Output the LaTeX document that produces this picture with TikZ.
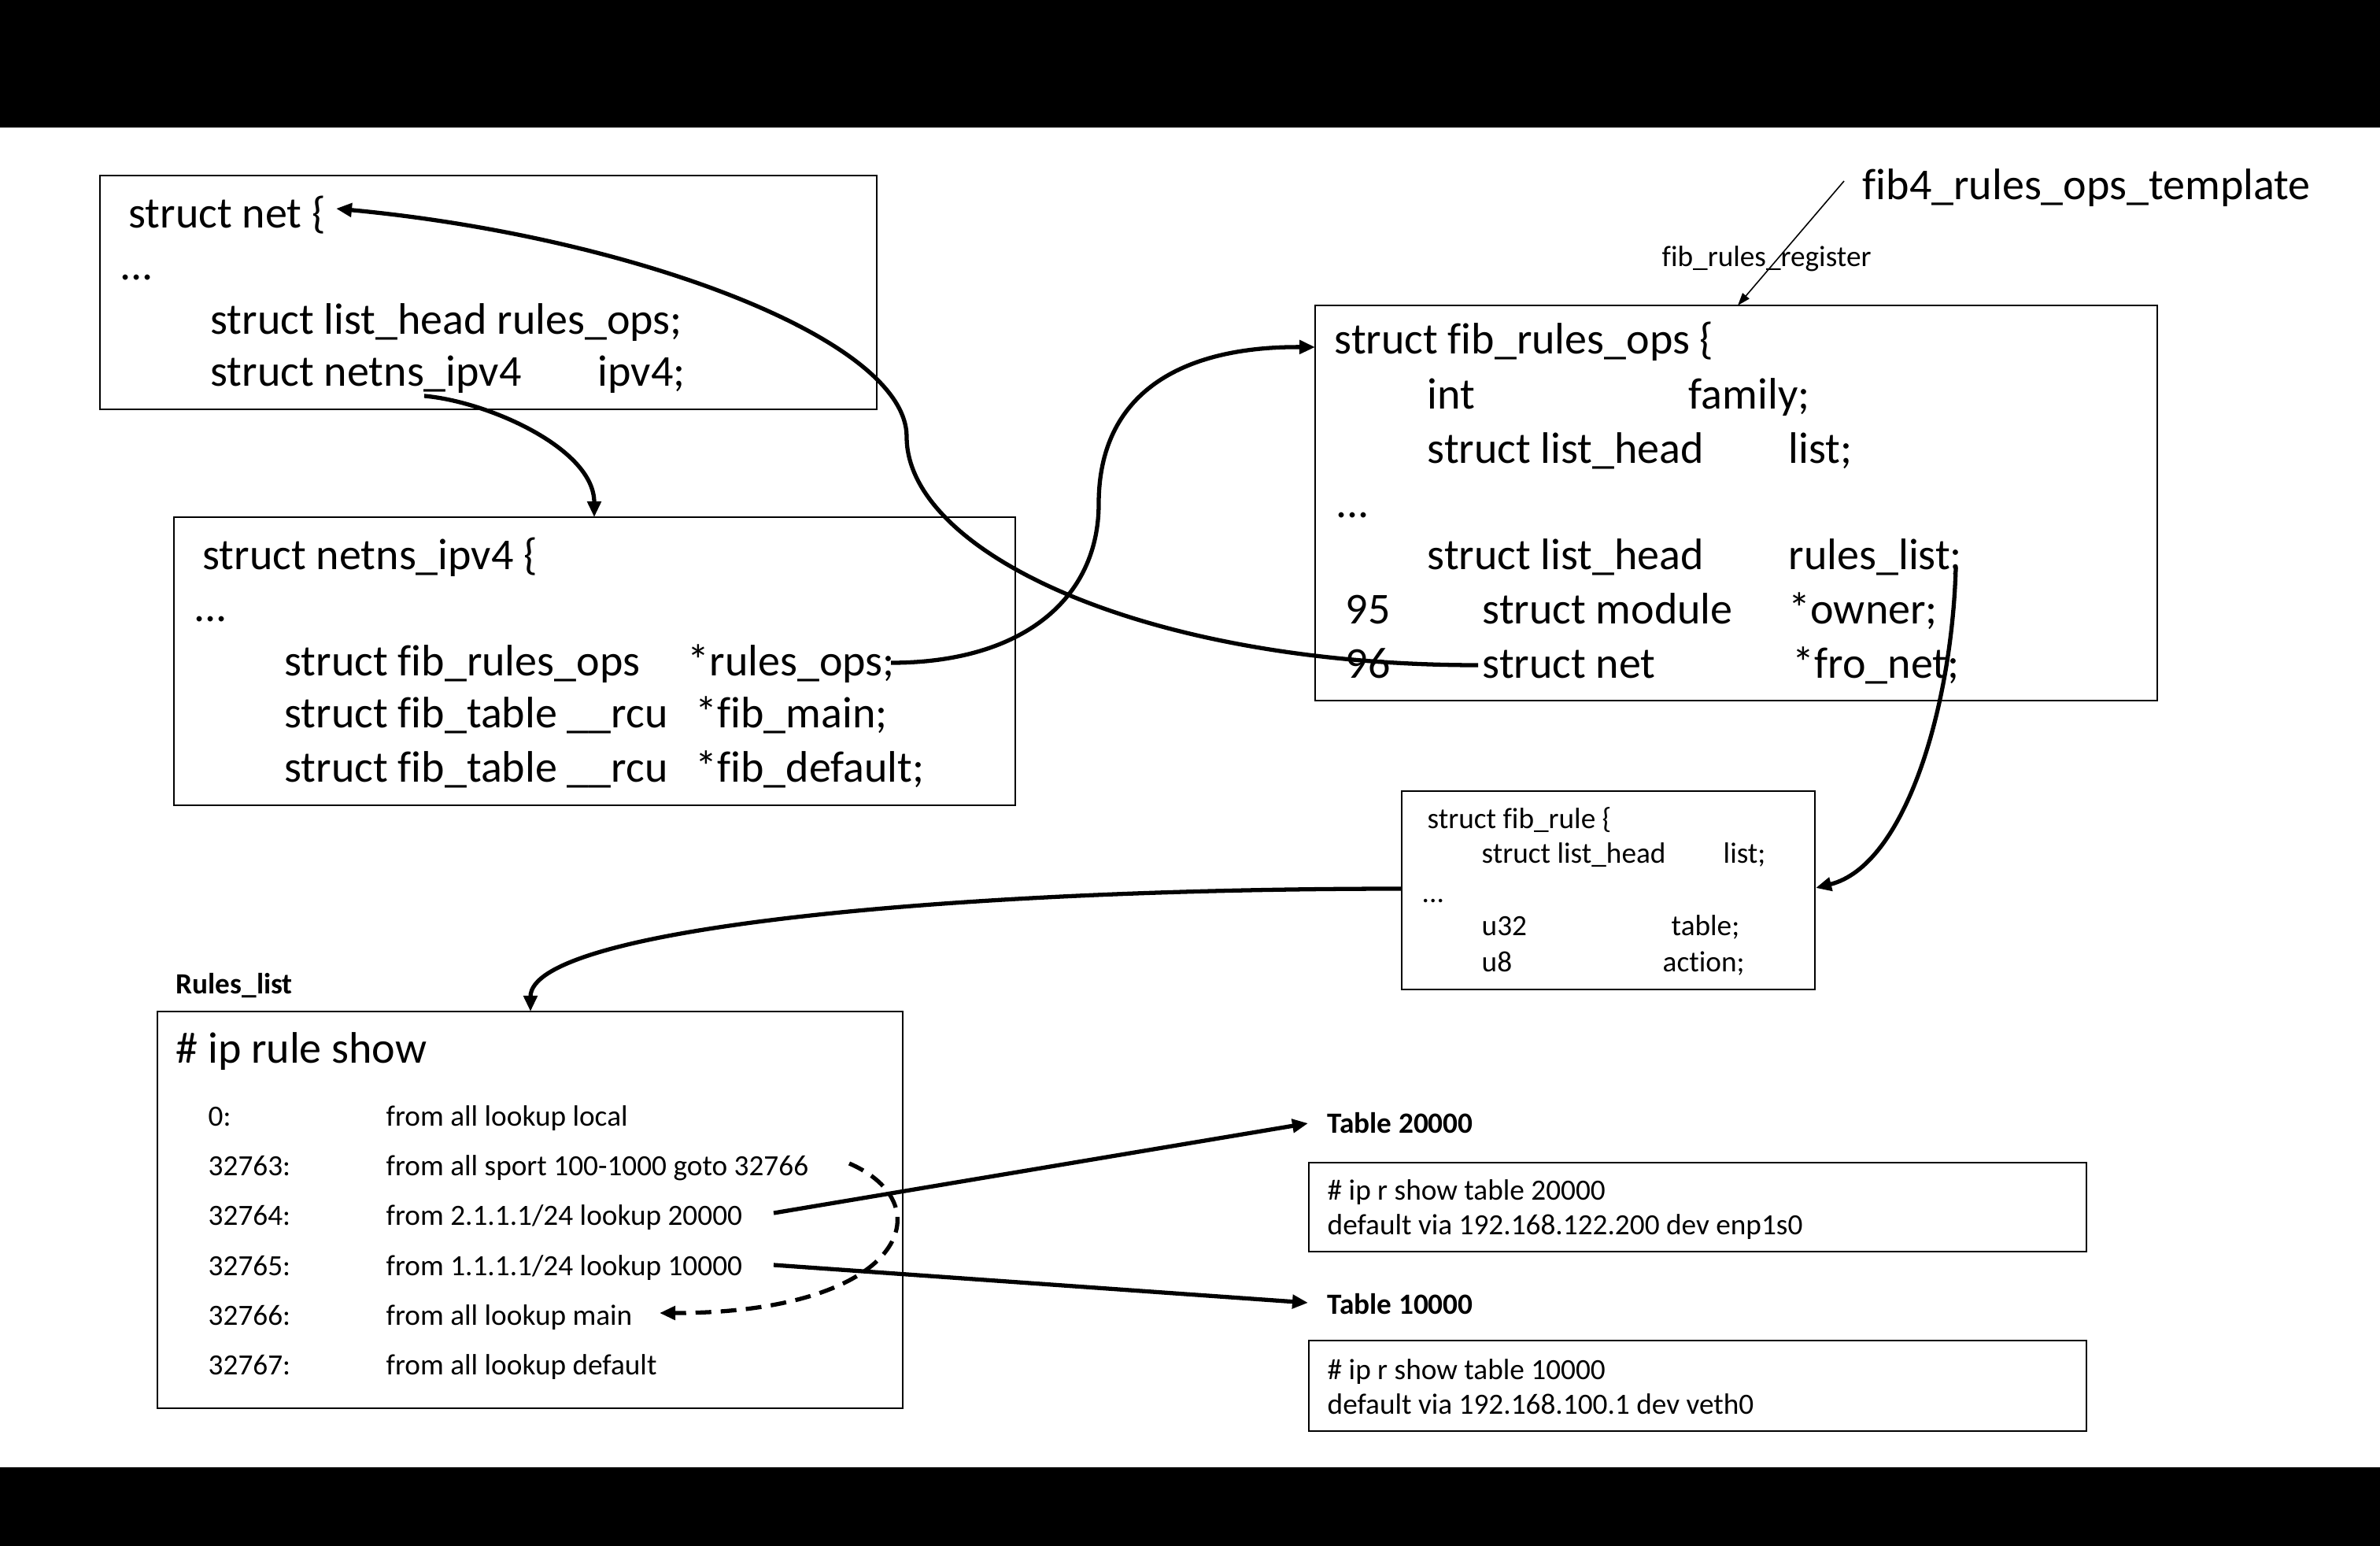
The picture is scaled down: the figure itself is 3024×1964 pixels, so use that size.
\documentclass[tikz,border=0pt]{standalone}
\usepackage{fontspec}
\setmainfont{Carlito}[Ligatures=NoCommon]
\usetikzlibrary{arrows.meta,fit}
\newcommand\bigfnt{\fontsize{15.93pt}{19pt}\selectfont}
\newcommand\smallfnt{\fontsize{10.6pt}{12.7pt}\selectfont}
\begin{document}
\begin{tikzpicture}[x=0.01cm,y=-0.01cm,
 box/.style={draw, line width=0.45pt, inner sep=0pt},
 bt/.style={anchor=base west, inner sep=0pt, font=\bigfnt},
 st/.style={anchor=base west, inner sep=0pt, font=\smallfnt},
 sb/.style={anchor=base west, inner sep=0pt, font=\smallfnt\bfseries},
 conn/.style={line width=1.5pt, -{Triangle[length=0.2cm,width=0.17cm]}},
 thin/.style={line width=0.45pt, -{Triangle[length=0.16cm,width=0.11cm]}},
]
\useasboundingbox (0,0) rectangle (3024,1964);
\fill[black] (0,0) rectangle (3024,162);
\fill[black] (0,1864) rectangle (3024,1964);

% boxes
\node[box, fit={(127,223)(1114,520)}] (net) {};
\node[box, fit={(221,657)(1290,1023)}] (netns) {};
\node[box, fit={(1671,388)(2741,890)}] (ops) {};
\node[box, fit={(1781,1005)(2306,1257)}] (rule) {};
\node[box, fit={(200,1285)(1147,1789)}] (rules) {};
\node[box, fit={(1663,1477)(2651,1590)}] (tb2) {};
\node[box, fit={(1663,1703)(2651,1818)}] (tb1) {};

% struct net
\node[bt] (net1) at (163,290) {struct net \{};
\node[bt] (net2) at (152,356) {...};
\node[bt] (net3) at (267,425) {struct list\_head rules\_ops;};
\node[bt] (net4) at (267,491) {struct netns\_ipv4};
\node[bt] (net4b) at (759,491) {ipv4;};

% struct netns_ipv4
\node[bt] (ns1) at (257,723) {struct netns\_ipv4 \{};
\node[bt] (ns2) at (246,789) {...};
\node[bt] (ns3) at (361,858) {struct fib\_rules\_ops};
\node[bt] (ns3b) at (873,858) {*rules\_ops;};
\node[bt] (ns4) at (361,924) {struct fib\_table \_\_rcu};
\node[bt] (ns4b) at (883,924) {*fib\_main;};
\node[bt] (ns5) at (361,993) {struct fib\_table \_\_rcu};
\node[bt] (ns5b) at (883,993) {*fib\_default;};

% fib4 template
\node[bt] (tmpl) at (2366,254) {fib4\_rules\_ops\_template};
\node[st] (reg) at (2111,339) {fib\_rules\_register};

% struct fib_rules_ops
\node[bt] (op1) at (1695,450) {struct fib\_rules\_ops \{};
\node[bt] (op2) at (1813,519) {int};
\node[bt] (op2b) at (2145,519) {family;};
\node[bt] (op3) at (1813,588) {struct list\_head};
\node[bt] (op3b) at (2272,588) {list;};
\node[bt] (op4) at (1697,657) {...};
\node[bt] (op5) at (1813,723) {struct list\_head};
\node[bt] (op5b) at (2272,723) {rules\_list;};
\node[bt] (op6n) at (1709,792) {95};
\node[bt] (op6) at (1883,792) {struct module};
\node[bt] (op6b) at (2272,792) {*owner;};
\node[bt] (op7n) at (1709,861) {96};
\node[bt] (op7) at (1883,861) {struct net};
\node[bt] (op7b) at (2277,861) {*fro\_net;};

% struct fib_rule
\node[st] (fr1) at (1813,1052) {struct fib\_rule \{};
\node[st] (fr2) at (1882,1096) {struct list\_head};
\node[st] (fr2b) at (2189,1096) {list;};
\node[st] (fr3) at (1806,1146) {...};
\node[st] (fr4) at (1882,1188) {u32};
\node[st] (fr4b) at (2123,1188) {table;};
\node[st] (fr5) at (1882,1234) {u8};
\node[st] (fr5b) at (2112,1234) {action;};

% rules list
\node[sb] (rlab) at (223,1262) {Rules\_list};
\node[bt] (r0) at (223,1350) {\# ip rule show};
\node[st] (r1n) at (264,1430) {0:};
\node[st] (r1) at (490,1430) {from all lookup local};
\node[st] (r2n) at (264,1493) {32763:};
\node[st] (r2) at (490,1493) {from all sport 100-1000 goto 32766};
\node[st] (r3n) at (264,1556) {32764:};
\node[st] (r3) at (490,1556) {from 2.1.1.1/24 lookup 20000};
\node[st] (r4n) at (264,1620) {32765:};
\node[st] (r4) at (490,1620) {from 1.1.1.1/24 lookup 10000};
\node[st] (r5n) at (264,1683) {32766:};
\node[st] (r5) at (490,1683) {from all lookup main};
\node[st] (r6n) at (264,1746) {32767:};
\node[st] (r6) at (490,1746) {from all lookup default};

% tables
\node[sb] (tl2) at (1686,1439) {Table 20000};
\node[st] (t2a) at (1686,1524) {\# ip r show table 20000};
\node[st] (t2b) at (1686,1568) {default via 192.168.122.200 dev enp1s0};
\node[sb] (tl1) at (1686,1669) {Table 10000};
\node[st] (t1a) at (1686,1752) {\# ip r show table 10000};
\node[st] (t1b) at (1686,1796) {default via 192.168.100.1 dev veth0};

% connector end points
\coordinate (aS) at (539,503);
\coordinate (aE) at (755,657);
\coordinate (bS) at (1878,845);
\coordinate (bM) at (1152,555);
\coordinate (bE) at (427,265);
\coordinate (cS) at (1132,842);
\coordinate (cM) at (1396,640);
\coordinate (cE) at (1671,441);
\coordinate (dS) at (2485,721);
\coordinate (dE) at (2307,1128);
\coordinate (eS) at (1781,1129);
\coordinate (eE) at (674,1285);
\coordinate (fS) at (1079,1478);
\coordinate (fE) at (838,1668);
\coordinate (gS) at (983,1541);
\coordinate (gE) at (1662,1427);
\coordinate (hS) at (983,1607);
\coordinate (hE) at (1662,1655);
\coordinate (iS) at (2343,230);
\coordinate (iE) at (2208,388);

% connectors
\draw[conn] (aS) .. controls (620,510) and (755,570) .. (aE);
\draw[conn] (bS) .. controls (1450,845) and (1152,700) .. (bM)
  .. controls (1152,430) and (800,300) .. (bE);
\draw[conn] (cS) .. controls (1300,842) and (1396,760) .. (cM)
  .. controls (1396,500) and (1500,440) .. (cE);
\draw[conn] (dS) .. controls (2480,900) and (2420,1100) .. (dE);
\draw[conn] (eS) .. controls (1200,1129) and (674,1180) .. (eE);
\draw[conn, dash pattern=on 0.2cm off 0.12cm] (fS) .. controls (1200,1530) and (1150,1668) .. (fE);
\draw[conn] (gS) -- (gE);
\draw[conn] (hS) -- (hE);
\draw[thin] (iS) -- (iE);
\end{tikzpicture}
\end{document}
